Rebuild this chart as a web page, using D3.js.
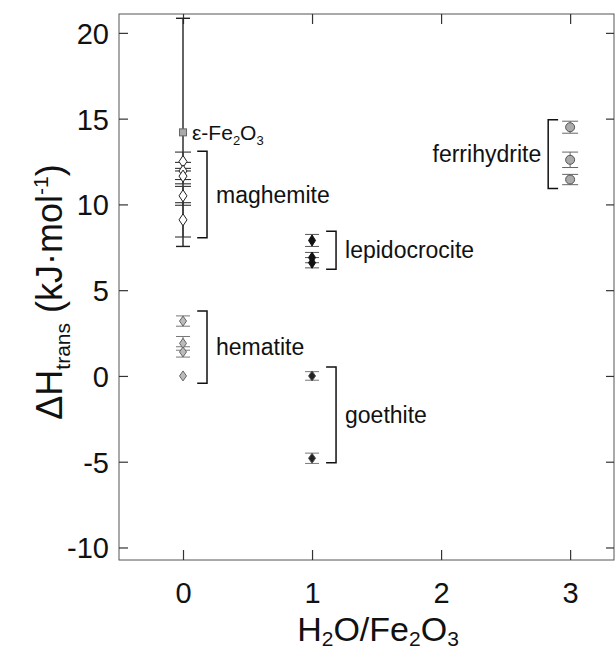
<!DOCTYPE html>
<html><head><meta charset="utf-8">
<script src="https://cdn.jsdelivr.net/npm/d3@7"></script>
<style>body{margin:0;background:#fff}</style>
</head><body><svg id="c" width="615" height="653"></svg>
<script>
// ---- data ----
const xTicks = [0, 1, 2, 3];
const yTicks = [-10, -5, 0, 5, 10, 15, 20];
const epsilonFe2O3 = [{x: 0, y: 14.2, err: 6.65}];
const maghemite = [
  {x: 0, y: 12.5, err: 0.55},
  {x: 0, y: 11.95, err: 0.5},
  {x: 0, y: 11.65, err: 0.45},
  {x: 0, y: 10.5, err: 0.55},
  {x: 0, y: 9.1, err: 1.0}
];
const hematite = [
  {x: 0, y: 3.2, err: 0.3},
  {x: 0, y: 1.9, err: 0.4},
  {x: 0, y: 1.4, err: 0.3},
  {x: 0, y: 0.0, err: 0.0}
];
const lepidocrocite = [
  {x: 1, y: 7.9, err: 0.35},
  {x: 1, y: 6.9, err: 0.3},
  {x: 1, y: 6.6, err: 0.3}
];
const goethite = [
  {x: 1, y: 0.0, err: 0.25},
  {x: 1, y: -4.8, err: 0.3}
];
const ferrihydrite = [
  {x: 3, y: 14.5, err: 0.35},
  {x: 3, y: 12.6, err: 0.45},
  {x: 3, y: 11.45, err: 0.3}
];
// brackets: vertical x, end x, top y, bottom y (data units)
const brackets = [
  {name: "maghemite", xv: 0.186, xe: 0.11, y0: 13.1, y1: 8.05, side: "right"},
  {name: "hematite", xv: 0.186, xe: 0.11, y0: 3.78, y1: -0.42, side: "right"},
  {name: "lepidocrocite", xv: 1.186, xe: 1.109, y0: 8.43, y1: 6.22, side: "right"},
  {name: "goethite", xv: 1.186, xe: 1.109, y0: 0.52, y1: -5.06, side: "right"},
  {name: "ferrihydrite", xv: 2.83, xe: 2.907, y0: 14.94, y1: 10.93, side: "left"}
];

// ---- layout ----
const L = 119, R = 614, T = 14, B = 560;
const x = d3.scaleLinear().domain([-0.496, 3.34]).range([L, R]);
const y = d3.scaleLinear().domain([-10.73, 21.1]).range([B, T]);
const svg = d3.select("#c");
const FONT = "'Liberation Sans', Arial, Helvetica, sans-serif";

// frame
svg.append("rect").attr("x", L).attr("y", T).attr("width", R - L).attr("height", B - T)
  .attr("fill", "none").attr("stroke", "#555").attr("stroke-width", 1);

// axes via d3 axis (inward ticks)
const gx = svg.append("g").attr("transform", `translate(0,${B})`)
  .call(d3.axisBottom(x).tickValues(xTicks).tickSizeInner(-10).tickSizeOuter(0).tickPadding(22).tickFormat(d => String(d)));
const gxt = svg.append("g").attr("transform", `translate(0,${T})`)
  .call(d3.axisTop(x).tickValues(xTicks).tickSizeInner(-10).tickSizeOuter(0).tickFormat(""));
const gy = svg.append("g").attr("transform", `translate(${L},0)`)
  .call(d3.axisLeft(y).tickValues(yTicks).tickSizeInner(-9).tickSizeOuter(0).tickPadding(10).tickFormat(d => String(d)));
const gyr = svg.append("g").attr("transform", `translate(${R},0)`)
  .call(d3.axisRight(y).tickValues(yTicks).tickSizeInner(-8).tickSizeOuter(0).tickFormat(""));
[gx, gxt, gy, gyr].forEach(g => {
  g.select(".domain").remove();
  g.selectAll("line").attr("stroke", "#333").attr("stroke-width", 1.2);
  g.selectAll("text").attr("font-family", FONT).attr("font-size", 29).attr("fill", "#111");
});
gy.selectAll("text").attr("dy", "0.36em");

// axis titles
const xt = svg.append("text").attr("x", 378).attr("y", 641).attr("text-anchor", "middle")
  .attr("font-family", FONT).attr("font-size", 34).attr("fill", "#111");
xt.append("tspan").text("H");
xt.append("tspan").text("2").attr("font-size", 21).attr("dy", 5);
xt.append("tspan").text("O/Fe").attr("dy", -5);
xt.append("tspan").text("2").attr("font-size", 21).attr("dy", 5);
xt.append("tspan").text("O").attr("dy", -5);
xt.append("tspan").text("3").attr("font-size", 21).attr("dy", 5);

const yt = svg.append("text").attr("transform", "translate(62,292) rotate(-90)").attr("text-anchor", "middle")
  .attr("font-family", FONT).attr("font-size", 36).attr("fill", "#111");
yt.append("tspan").text("ΔH");
yt.append("tspan").text("trans").attr("font-size", 21).attr("dy", 8);
yt.append("tspan").text(" (kJ·mol").attr("dy", -8);
yt.append("tspan").text("-1").attr("font-size", 21).attr("dy", -14);
yt.append("tspan").text(")").attr("dy", 14);

// error bars
function errorBars(data, capW, color, width) {
  const g = svg.append("g").attr("stroke", color).attr("stroke-width", width || 1);
  data.forEach(d => {
    if (d.err <= 0) return;
    const cx = x(d.x);
    g.append("line").attr("x1", cx).attr("x2", cx).attr("y1", y(d.y + d.err)).attr("y2", y(d.y - d.err));
    [d.y + d.err, d.y - d.err].forEach(v => {
      g.append("line").attr("x1", cx - capW / 2).attr("x2", cx + capW / 2).attr("y1", y(v)).attr("y2", y(v));
    });
  });
}
function diamonds(data, w, h, fill, stroke) {
  svg.append("g").selectAll("path").data(data).join("path")
    .attr("d", d => {
      const cx = x(d.x), cy = y(d.y);
      return `M${cx},${cy - h / 2}L${cx + w / 2},${cy}L${cx},${cy + h / 2}L${cx - w / 2},${cy}Z`;
    })
    .attr("fill", fill).attr("stroke", stroke).attr("stroke-width", 1);
}

errorBars(epsilonFe2O3, 14, "#222", 1.4);
errorBars(maghemite, 16, "#333", 1.1);
errorBars(hematite, 14, "#777", 1);
errorBars(lepidocrocite, 14, "#555", 1);
errorBars(goethite, 14, "#777", 1);
errorBars(ferrihydrite, 16, "#666", 1);

// epsilon square
svg.append("g").selectAll("rect").data(epsilonFe2O3).join("rect")
  .attr("x", d => x(d.x) - 3.5).attr("y", d => y(d.y) - 3.5).attr("width", 7).attr("height", 7)
  .attr("fill", "#aaa").attr("stroke", "#666");
diamonds(maghemite, 8, 12, "#fff", "#222");
diamonds(hematite, 7, 10, "#bbb", "#666");
diamonds(lepidocrocite, 7, 11, "#111", "#111");
diamonds(goethite, 7, 10, "#222", "#555");
svg.append("g").selectAll("circle").data(ferrihydrite).join("circle")
  .attr("cx", d => x(d.x)).attr("cy", d => y(d.y)).attr("r", 4.5)
  .attr("fill", "#aaa").attr("stroke", "#555");

// brackets and labels
brackets.forEach(b => {
  const xv = x(b.xv), xe = x(b.xe), y0 = y(b.y0), y1 = y(b.y1);
  svg.append("path").attr("d", `M${xe},${y0}H${xv}V${y1}H${xe}`)
    .attr("fill", "none").attr("stroke", "#111").attr("stroke-width", 1.5);
  const ym = (y0 + y1) / 2;
  svg.append("text").text(b.name)
    .attr("x", b.side === "right" ? xv + 9 : xv - 7).attr("y", ym).attr("dy", "0.35em")
    .attr("text-anchor", b.side === "right" ? "start" : "end")
    .attr("font-family", FONT).attr("font-size", 23).attr("fill", "#111");
});

// epsilon label
const el = svg.append("text").attr("x", x(0) + 9).attr("y", y(epsilonFe2O3[0].y)).attr("dy", "0.35em")
  .attr("font-family", FONT).attr("font-size", 21).attr("fill", "#111");
el.append("tspan").text("ε-Fe");
el.append("tspan").text("2").attr("font-size", 13).attr("dy", 5);
el.append("tspan").text("O").attr("dy", -5);
el.append("tspan").text("3").attr("font-size", 13).attr("dy", 5);
</script></body></html>
